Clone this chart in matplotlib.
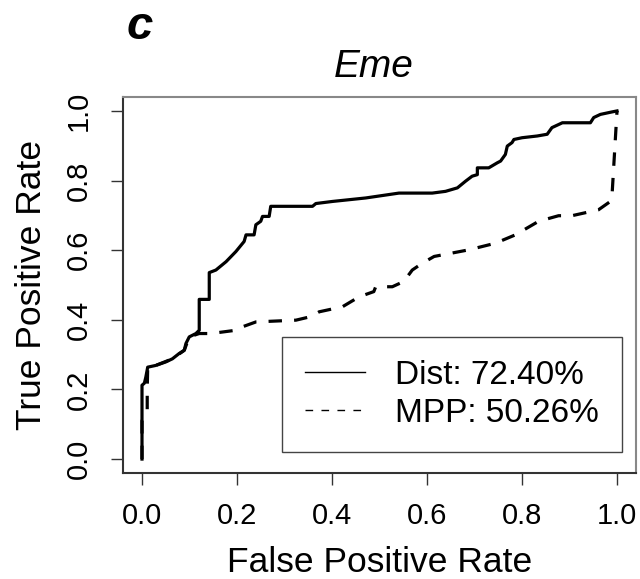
import matplotlib
matplotlib.use("Agg")
import matplotlib.pyplot as plt

plt.rcParams['font.family'] = ['Liberation Sans', 'DejaVu Sans']

# ROC curve points
dist_fpr = [0.0, 0.0, 0.005, 0.008, 0.012, 0.029, 0.050, 0.064, 0.078, 0.089, 0.0925,
            0.0995, 0.1135, 0.1205, 0.1205, 0.1416, 0.1416, 0.1556, 0.177, 0.1976,
            0.215, 0.219, 0.236, 0.2397, 0.25, 0.2537, 0.2677, 0.271, 0.359, 0.366,
            0.401, 0.471, 0.541, 0.611, 0.639, 0.664, 0.681, 0.695, 0.706, 0.706,
            0.730, 0.748, 0.755, 0.765, 0.769, 0.779, 0.783, 0.800, 0.832, 0.853,
            0.863, 0.885, 0.944, 0.951, 0.965, 0.989, 1.0]
dist_tpr = [0.0, 0.212, 0.218, 0.235, 0.264, 0.269, 0.279, 0.288, 0.303, 0.3125, 0.332,
            0.351, 0.3606, 0.370, 0.4587, 0.4587, 0.5356, 0.543, 0.567, 0.596,
            0.625, 0.644, 0.644, 0.673, 0.683, 0.697, 0.697, 0.726, 0.726, 0.734,
            0.740, 0.750, 0.764, 0.764, 0.769, 0.779, 0.798, 0.8125, 0.817, 0.8365,
            0.8365, 0.851, 0.856, 0.875, 0.899, 0.909, 0.918, 0.923, 0.928, 0.933,
            0.952, 0.966, 0.966, 0.981, 0.990, 0.997, 1.0]

mpp_fpr = [0.0, 0.0, 0.011, 0.011, 0.012, 0.029, 0.064, 0.089, 0.0995, 0.1205,
           0.145, 0.1976, 0.2116, 0.24, 0.324, 0.355, 0.373, 0.422, 0.457, 0.488,
           0.492, 0.527, 0.551, 0.569, 0.590, 0.615, 0.688, 0.744, 0.786, 0.835,
           0.877, 0.905, 0.961, 0.986, 0.989, 1.0]
mpp_tpr = [0.0, 0.11, 0.14, 0.20, 0.264, 0.269, 0.288, 0.3125, 0.351, 0.3606,
           0.3606, 0.370, 0.380, 0.394, 0.399, 0.409, 0.423, 0.4375, 0.466, 0.481,
           0.495, 0.495, 0.510, 0.543, 0.5625, 0.582, 0.601, 0.620, 0.644, 0.683,
           0.699, 0.699, 0.716, 0.740, 0.745, 1.0]

labels = ["Dist: 72.40%", "MPP: 50.26%"]
ticks = [0.0, 0.2, 0.4, 0.6, 0.8, 1.0]
tick_labels = ["0.0", "0.2", "0.4", "0.6", "0.8", "1.0"]

fig = plt.figure(figsize=(6.4, 5.79), dpi=100)
ax = fig.add_axes([123/640, 1 - 473/579, 513/640, 376/579])

ax.plot(dist_fpr, dist_tpr, color='black', lw=2.3, label=labels[0])
ax.plot(mpp_fpr, mpp_tpr, color='black', lw=2.3, dashes=(4.2, 3.8), label=labels[1])

ax.set_xlim(-0.04, 1.04)
ax.set_ylim(-0.04, 1.04)
ax.set_xticks(ticks)
ax.set_xticklabels(tick_labels)
ax.set_yticks(ticks)
ax.set_yticklabels(tick_labels, rotation=90, va='center')
ax.tick_params(direction='out', length=8.6, width=1, labelsize=21, color='#333333')
ax.tick_params(axis='x', pad=12)
ax.tick_params(axis='y', pad=13)

for side in ['top', 'right']:
    ax.spines[side].set_color('#888888')
    ax.spines[side].set_linewidth(1.5)
for side in ['left', 'bottom']:
    ax.spines[side].set_color('#333333')
    ax.spines[side].set_linewidth(1.5)

ax.set_xlabel("False Positive Rate", fontsize=25.5, labelpad=12)
ax.set_ylabel("True Positive Rate", fontsize=25.5, labelpad=12)

leg = ax.legend(loc='lower right', bbox_to_anchor=(0.973, 0.056), borderaxespad=0,
                fontsize=24, handlelength=1.8, handletextpad=0.9,
                labelspacing=0.2, borderpad=0.7, fancybox=False, framealpha=1)
leg.get_frame().set_edgecolor('#444444')
leg.get_frame().set_linewidth(1.0)
hl = leg.get_lines()
hl[0].set_linewidth(1.0)
hl[1].set_linewidth(1.0)
hl[1].set_dashes((5.5, 6))

fig.text(374/640, 1 - 67/579, "Eme", fontsize=28, style='italic', ha='center', va='center')
fig.text(140/640, 1 - 27/579, "c", fontsize=34, style='italic', weight='bold',
         ha='center', va='center')

fig.savefig("out.png", dpi=100)
